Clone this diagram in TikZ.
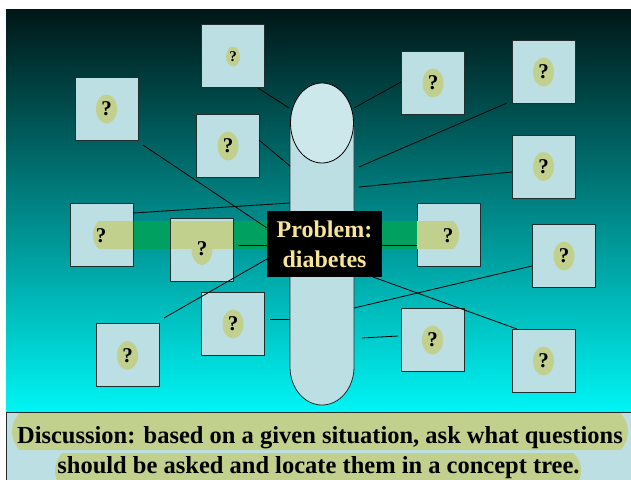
\documentclass[tikz,border=0pt]{standalone}
\usepackage{fontspec}
\setmainfont{Liberation Serif}
\usetikzlibrary{shapes.misc,shapes.geometric}
\definecolor{boxfill}{RGB}{188,223,227}
\definecolor{topfill}{RGB}{205,232,235}
\definecolor{qolive}{RGB}{194,208,142}
\definecolor{bandgreen}{RGB}{0,160,96}
\definecolor{labeltext}{RGB}{248,228,150}
\definecolor{bgtop}{RGB}{0,22,22}
\definecolor{bgbot}{RGB}{0,245,245}
\definecolor{edgecol}{RGB}{35,45,45}
\begin{document}
\begin{tikzpicture}[x=1pt,y=-1pt,
  qbox/.style={draw=edgecol, line width=0.9pt, fill=boxfill, minimum width=63, minimum height=63, inner sep=0},
  qbub/.style={shape=ellipse, fill=qolive, minimum width=21, minimum height=29, inner sep=0, font=\bfseries\fontsize{21}{21}\selectfont},
  qbubsmall/.style={qbub, minimum width=14, minimum height=20, font=\bfseries\fontsize{15}{15}\selectfont},
  qmark/.style={inner sep=0, font=\bfseries\fontsize{21}{21}\selectfont},
  conn/.style={draw=black, line width=0.8pt},
  tbub/.style={shape=rounded rectangle, rounded rectangle arc length=90, fill=qolive, inner sep=0},
  ttext/.style={anchor=base, inner sep=0, font=\bfseries\fontsize{24.5}{24.5}\selectfont}
]
\useasboundingbox (0,0) rectangle (631,479);
\fill[white] (0,0) rectangle (631,479);
\shade[top color=bgtop, bottom color=bgbot] (6,9) rectangle (631,412);

% green band
\fill[bandgreen] (125,221) rectangle (425,249);

% boxes
\node[qbox] (A) at (233,56) {};
\node[qbox] (B) at (106.5,108.5) {};
\node[qbox] (C) at (228,145.5) {};
\node[qbox] (D) at (101.5,234.5) {};
\node[qbox] (E) at (201.5,250) {};
\node[qbox] (F) at (233,323.5) {};
\node[qbox] (G) at (127.5,355) {};
\node[qbox] (H) at (448.5,234.5) {};
\node[qbox] (I) at (432.5,82.5) {};
\node[qbox] (J) at (543.5,72) {};
\node[qbox] (K) at (543.5,166.5) {};
\node[qbox] (L) at (564,255.5) {};
\node[qbox] (M) at (432.5,339.5) {};
\node[qbox] (N) at (543.5,360.5) {};

% olive band pieces inside D, E, H
\fill[qolive] (133,221) -- (99,221) .. controls (91,227) and (91,243) .. (99,249) -- (133,249) -- cycle;
\fill[qolive] (170.5,221) rectangle (232.5,249);
\fill[qolive] (417,221) -- (453,221) .. controls (461,227) and (461,243) .. (453,249) -- (417,249) -- cycle;

% question bubbles
\node[qbubsmall] (qA) at (233,56.5) {?};
\node[qbub] (qB) at (106.5,109) {?};
\node[qbub] (qC) at (228,146) {?};
\node[qmark] (qD) at (101,235.5) {?};
\node[qbub, minimum height=32] (qE) at (202,249) {?};
\node[qbub] (qF) at (233,324) {?};
\node[qbub] (qG) at (127.5,355.5) {?};
\node[qmark] (qH) at (448,235.5) {?};
\node[qbub] (qI) at (433,83) {?};
\node[qbub] (qJ) at (543.5,72) {?};
\node[qbub] (qK) at (543.5,166.5) {?};
\node[qbub] (qL) at (564,256) {?};
\node[qbub] (qM) at (432.5,340) {?};
\node[qbub] (qN) at (543.5,361) {?};

% central pill
\draw[fill=boxfill, draw=edgecol, line width=0.8pt] (290,123) -- (290,367) .. controls (290,388) and (304.3,405) .. (322,405) .. controls (339.7,405) and (354,388) .. (354,367) -- (354,123);
\draw[fill=topfill, draw=black, line width=0.8pt] (322,123) ellipse [x radius=31.5, y radius=40];

% connector end points
\coordinate (c1a) at (258,88);   \coordinate (c1b) at (289,108);
\coordinate (c2a) at (354,108);  \coordinate (c2b) at (401,82);
\coordinate (c3a) at (507,103);  \coordinate (c3b) at (359,167);
\coordinate (c4a) at (512,172);  \coordinate (c4b) at (359,187);
\coordinate (c5a) at (259,140);  \coordinate (c5b) at (290,166);
\coordinate (c6a) at (143,145);  \coordinate (c6b) at (267,228);
\coordinate (c7a) at (133,213);  \coordinate (c7b) at (290,203);
\coordinate (c8a) at (238,245);  \coordinate (c8b) at (267,245);
\coordinate (c9a) at (382,245);  \coordinate (c9b) at (417,245);
\coordinate (c10a) at (267,259); \coordinate (c10b) at (164,318);
\coordinate (c11a) at (270,319); \coordinate (c11b) at (290,319);
\coordinate (c12a) at (354,308); \coordinate (c12b) at (532,266);
\coordinate (c13a) at (373,277); \coordinate (c13b) at (517,329);
\coordinate (c14a) at (362,338); \coordinate (c14b) at (398,336);

\draw[conn] (c1a) -- (c1b);
\draw[conn] (c2a) -- (c2b);
\draw[conn] (c3a) -- (c3b);
\draw[conn] (c4a) -- (c4b);
\draw[conn] (c5a) -- (c5b);
\draw[conn] (c6a) -- (c6b);
\draw[conn] (c7a) -- (c7b);
\draw[conn] (c8a) -- (c8b);
\draw[conn] (c9a) -- (c9b);
\draw[conn] (c10a) -- (c10b);
\draw[conn] (c11a) -- (c11b);
\draw[conn] (c12a) -- (c12b);
\draw[conn] (c13a) -- (c13b);
\draw[conn] (c14a) -- (c14b);

% central label
\node[fill=black, text=labeltext, minimum width=115, minimum height=66, align=center, inner sep=0,
      font=\bfseries\fontsize{24}{30}\selectfont] (lab) at (324.5,244) {Problem:\\diabetes};

% bottom strip
\begin{scope}
\clip (0,0) rectangle (631,479);
\draw[fill=boxfill, draw=edgecol, line width=0.9pt] (6.5,412) rectangle (640,490);
\node[tbub, minimum width=616, minimum height=37] (b1) at (320,431.5) {};
\node[tbub, minimum width=526, minimum height=36] (b2) at (318,471) {};
\node[ttext] (t1) at (320,443) {Discussion: based on a given situation, ask what questions};
\node[ttext] (t2) at (318.5,473) {should be asked and locate them in a concept tree.};
\end{scope}
\end{tikzpicture}
\end{document}
